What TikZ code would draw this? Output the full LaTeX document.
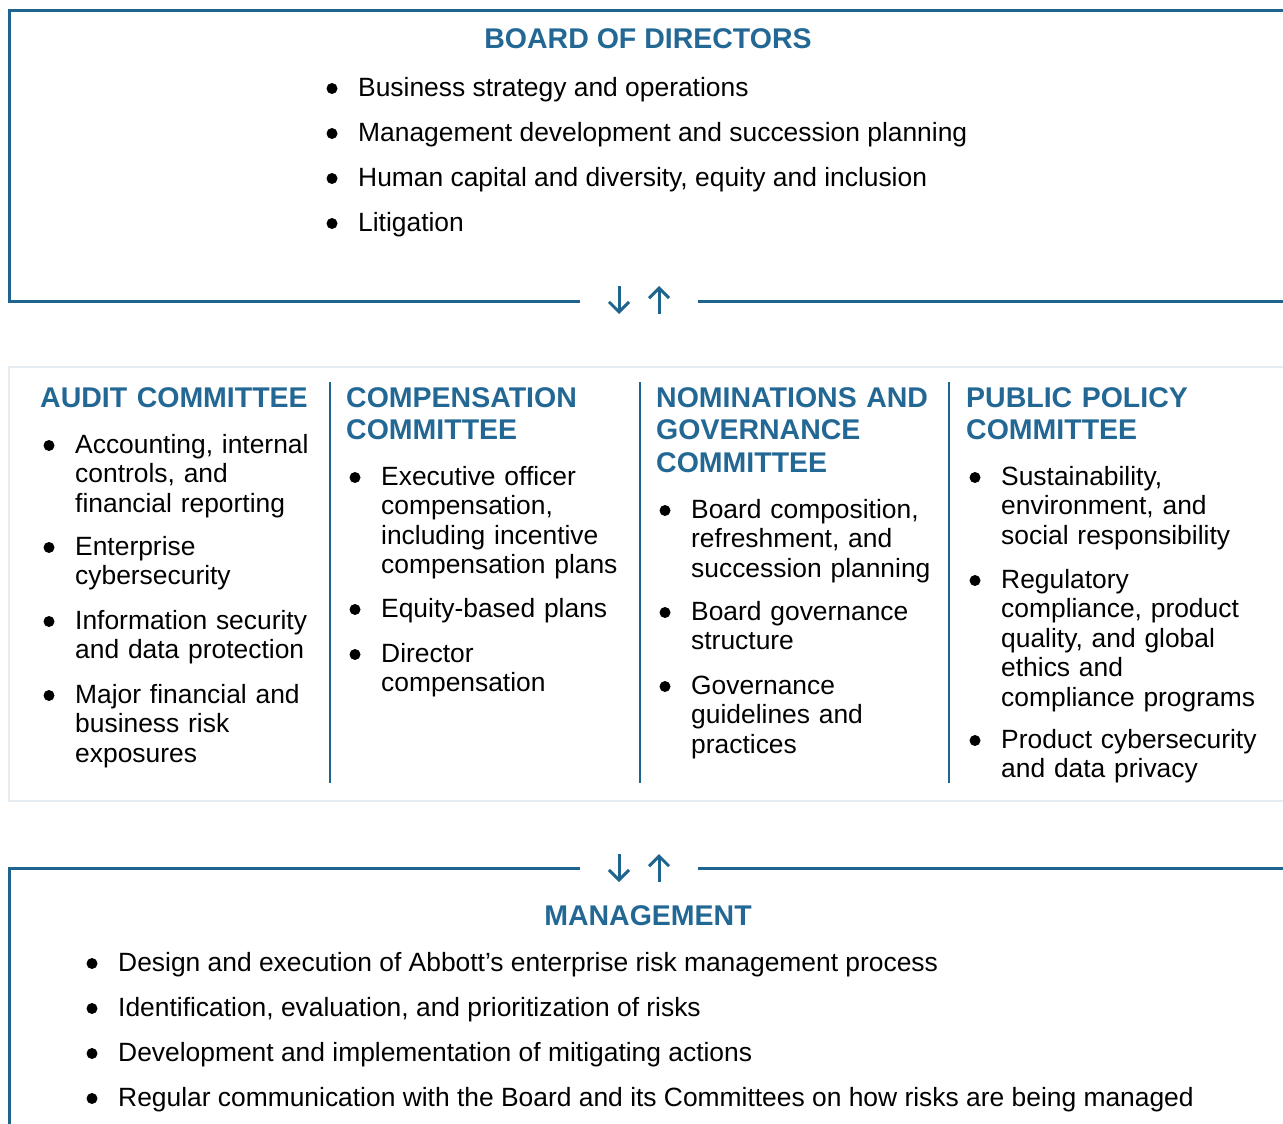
\documentclass[tikz,border=0pt]{standalone}
\usepackage{fontspec}
\setmainfont{Liberation Sans}
\usetikzlibrary{arrows.meta}
\definecolor{riskblue}{RGB}{35,104,148}
\definecolor{riskline}{RGB}{30,100,142}
\definecolor{riskpale}{RGB}{229,237,242}
\tikzset{
  headtext/.style = {anchor=base west, inner sep=0pt, text width=300pt, align=left,
    text=riskblue, font=\bfseries\fontsize{28.5}{32.5}\selectfont},
  titletext/.style = {anchor=base, inner sep=0pt,
    text=riskblue, font=\bfseries\fontsize{28.5}{32.5}\selectfont},
  bullettext/.style = {anchor=base west, inner sep=0pt, text width=280pt, align=left,
    font=\fontsize{26.4}{29.5}\selectfont},
  linetext/.style = {anchor=base west, inner sep=0pt, font=\fontsize{26.4}{29.5}\selectfont},
  boxline/.style = {riskline, line width=3pt},
  arrowline/.style = {riskline, line width=3pt, -{Straight Barb[length=10pt,width=20pt]}}
}

\begin{document}
\begin{tikzpicture}[x=1pt,y=-1pt]
\useasboundingbox (0,0) rectangle (1283,1124);

% board of directors
\node[titletext] (board) at (648,49) {BOARD OF DIRECTORS};
\node[linetext] (b1) at (358,96) {Business strategy and operations};
\node[linetext] (b2) at (358,141) {Management development and succession planning};
\node[linetext] (b3) at (358,186) {Human capital and diversity, equity and inclusion};
\node[linetext] (b4) at (358,231) {Litigation};
\draw[boxline] (580,301) -| (9,11) -- (1283,11);
\draw[boxline] (698,301) -- (1283,301);

\coordinate (downA) at (619,286);
\coordinate (downB) at (619,314);
\coordinate (upA) at (659,314);
\coordinate (upB) at (659,286);
\draw[arrowline] (downA) -- (downB);
\draw[arrowline] (upA) -- (upB);

% committees
\draw[riskpale, line width=2pt] (9,367) rectangle (1290,801);
\foreach \x in {330,640,949}
  \draw[riskline, line width=2pt] (\x,382) -- (\x,783);

\node[headtext] (audit) at (40,407) {AUDIT COMMITTEE};
\node[bullettext] (au1) at (75,453) {Accounting, internal\\controls, and\\financial reporting};
\node[bullettext] (au2) at (75,555) {Enterprise\\cybersecurity};
\node[bullettext] (au3) at (75,629) {Information security\\and data protection};
\node[bullettext] (au4) at (75,703) {Major financial and\\business risk\\exposures};

\node[headtext] (comp) at (346,407) {COMPENSATION\\COMMITTEE};
\node[bullettext] (co1) at (381,485) {Executive officer\\compensation,\\including incentive\\compensation plans};
\node[bullettext] (co2) at (381,617) {Equity-based plans};
\node[bullettext] (co3) at (381,662) {Director\\compensation};

\node[headtext] (nom) at (656,407) {NOMINATIONS AND\\GOVERNANCE\\COMMITTEE};
\node[bullettext] (no1) at (691,518) {Board composition,\\refreshment, and\\succession planning};
\node[bullettext] (no2) at (691,620) {Board governance\\structure};
\node[bullettext] (no3) at (691,694) {Governance\\guidelines and\\practices};

\node[headtext] (pub) at (966,407) {PUBLIC POLICY\\COMMITTEE};
\node[bullettext] (pu1) at (1001,485) {Sustainability,\\environment, and\\social responsibility};
\node[bullettext] (pu2) at (1001,588) {Regulatory\\compliance, product\\quality, and global\\ethics and\\compliance programs};
\node[bullettext] (pu3) at (1001,748) {Product cybersecurity\\and data privacy};

% management
\coordinate (downC) at (619,854);
\coordinate (downD) at (619,882);
\coordinate (upC) at (659,882);
\coordinate (upD) at (659,854);
\draw[arrowline] (downC) -- (downD);
\draw[arrowline] (upC) -- (upD);
\draw[boxline] (580,868) -| (9,1130);
\draw[boxline] (698,868) -- (1283,868);

\node[titletext] (mgmt) at (648,925) {MANAGEMENT};
\node[linetext] (m1) at (118,971) {Design and execution of Abbott’s enterprise risk management process};
\node[linetext] (m2) at (118,1016) {Identification, evaluation, and prioritization of risks};
\node[linetext] (m3) at (118,1061) {Development and implementation of mitigating actions};
\node[linetext] (m4) at (118,1106) {Regular communication with the Board and its Committees on how risks are being managed};

% bullets
\foreach \n in {b1,b2,b3,b4,au1,au2,au3,au4,co1,co2,co3,no1,no2,no3,pu1,pu2,pu3,m1,m2,m3,m4}
  \fill ([xshift=-26pt,yshift=7.5pt]\n.base west) circle (5.5pt);
\end{tikzpicture}
\end{document}
